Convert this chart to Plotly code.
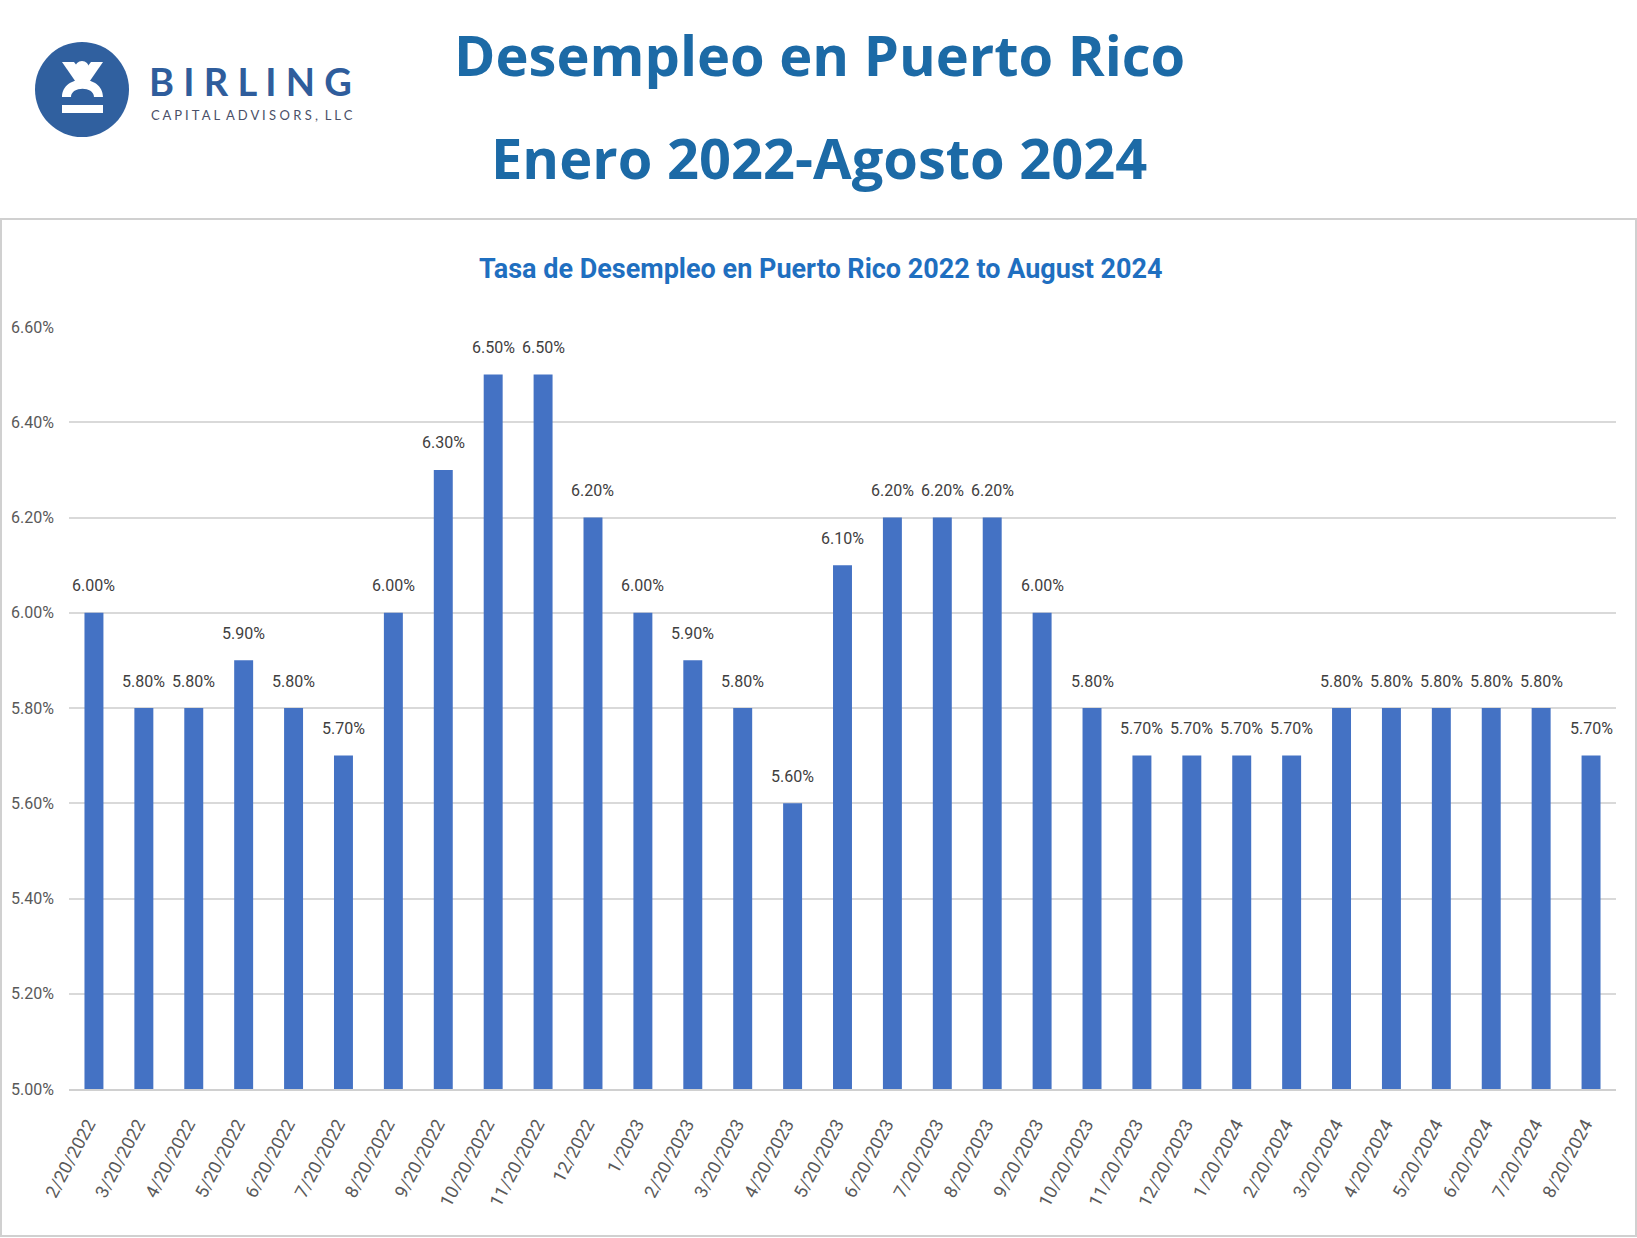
import plotly.graph_objects as go

dates = ["2/20/2022", "3/20/2022", "4/20/2022", "5/20/2022", "6/20/2022", "7/20/2022",
         "8/20/2022", "9/20/2022", "10/20/2022", "11/20/2022", "12/2022", "1/2023",
         "2/20/2023", "3/20/2023", "4/20/2023", "5/20/2023", "6/20/2023", "7/20/2023",
         "8/20/2023", "9/20/2023", "10/20/2023", "11/20/2023", "12/20/2023", "1/20/2024",
         "2/20/2024", "3/20/2024", "4/20/2024", "5/20/2024", "6/20/2024", "7/20/2024",
         "8/20/2024"]
rates = [6.0, 5.8, 5.8, 5.9, 5.8, 5.7, 6.0, 6.3, 6.5, 6.5, 6.2, 6.0,
         5.9, 5.8, 5.6, 6.1, 6.2, 6.2, 6.2, 6.0, 5.8, 5.7, 5.7, 5.7,
         5.7, 5.8, 5.8, 5.8, 5.8, 5.8, 5.7]
y_ticks = [5.0, 5.2, 5.4, 5.6, 5.8, 6.0, 6.2, 6.4, 6.6]

W, H = 1637, 1238
PL, PR, PT, PB = 69, 1616, 327, 1089


def px(x):
    return (x - PL) / (PR - PL)


def py(y):
    return (PB - y) / (PB - PT)


NARROW = "Roboto, Liberation Sans, sans-serif"

fig = go.Figure()
fig.add_trace(go.Bar(x=dates, y=rates, marker=dict(color="#4472C4", line=dict(width=0)),
                     hoverinfo="x+y"))

annotations = []
for d, v in zip(dates, rates):
    annotations.append(dict(x=d, y=v, text=f"{v:.2f}%", showarrow=False, yshift=27,
                            xanchor="center", yanchor="middle",
                            font=dict(family=NARROW, size=16, color="#404040")))


def ann(x, y, text, font, xanchor="center"):
    return dict(xref="paper", yref="paper", x=px(x), y=py(y), text=text, showarrow=False,
                xanchor=xanchor, yanchor="middle", font=font)


annotations += [
    ann(819, 54, "<b>Desempleo en Puerto Rico</b>",
        dict(family="Open Sans, sans-serif", size=56, color="#1C6AA6")),
    ann(819, 157, "<b>Enero 2022-Agosto 2024</b>",
        dict(family="Open Sans, sans-serif", size=56, color="#1C6AA6")),
    ann(821, 269, "<b>Tasa de Desempleo en Puerto Rico 2022 to August 2024</b>",
        dict(family="Roboto, sans-serif", size=27, color="#1F6FC0")),
    ann(147, 81, "<b>B I R L I N G</b>",
        dict(family="Lato, sans-serif", size=38, color="#2F5D9C"), xanchor="left"),
    ann(149, 115, "C A P I T A L  A D V I S O R S ,  L L C",
        dict(family="Lato, sans-serif", size=13, color="#4A5068"), xanchor="left"),
]

shapes = [
    # chart border
    dict(type="rect", xref="paper", yref="paper", x0=px(1), x1=px(1636), y0=py(219), y1=py(1236),
         line=dict(color="#D0D0D0", width=2), fillcolor="rgba(0,0,0,0)", layer="below"),
    # logo circle
    dict(type="circle", xref="paper", yref="paper", x0=px(35), x1=px(129), y0=py(42), y1=py(137),
         line=dict(width=0), fillcolor="#30609F"),
    # head
    dict(type="circle", xref="paper", yref="paper", x0=px(75), x1=px(89), y0=py(61), y1=py(75),
         line=dict(width=0), fillcolor="white"),
    # bottom bar
    dict(type="rect", xref="paper", yref="paper", x0=px(62), x1=px(103), y0=py(105), y1=py(113),
         line=dict(width=0), fillcolor="white"),
]


def P(x, y):
    return f"{px(x):.6f},{py(y):.6f}"


left_arm = f"M {P(62,62)} L {P(74,62)} L {P(88,80)} L {P(80,88)} Z"
right_arm = f"M {P(103,62)} L {P(91,62)} L {P(77,80)} L {P(85,88)} Z"
arch = (f"M {P(62,97)} C {P(62,74)} {P(103,74)} {P(103,97)} L {P(94,97)} "
        f"C {P(94,86)} {P(71,86)} {P(71,97)} Z")
for pth in (left_arm, right_arm, arch):
    shapes.append(dict(type="path", xref="paper", yref="paper", path=pth,
                       line=dict(width=0), fillcolor="white"))

fig.update_layout(
    width=W, height=H,
    margin=dict(l=PL, r=W - PR, t=PT, b=H - PB, autoexpand=False),
    paper_bgcolor="white", plot_bgcolor="white",
    bargap=0.62,
    showlegend=False,
    annotations=annotations,
    shapes=shapes,
    xaxis=dict(type="category", tickangle=-62, showgrid=False, showline=True,
               linecolor="#D0D0D0", linewidth=1.5, ticks="", automargin=False,
               ticklabelstandoff=16, ticklabelshift=-6,
               tickfont=dict(family=NARROW, size=18, color="#595959")),
    yaxis=dict(range=[5.0, 6.6], tickvals=y_ticks, ticktext=[f"{t:.2f}%" for t in y_ticks],
               showgrid=True, gridcolor="#D9D9D9", gridwidth=1.5, zeroline=False, showline=False,
               ticklabelstandoff=14, automargin=False,
               tickfont=dict(family=NARROW, size=16, color="#595959")),
)

fig.write_html("out.html", post_script="document.body.style.margin='0';",
               config={"displayModeBar": False})
